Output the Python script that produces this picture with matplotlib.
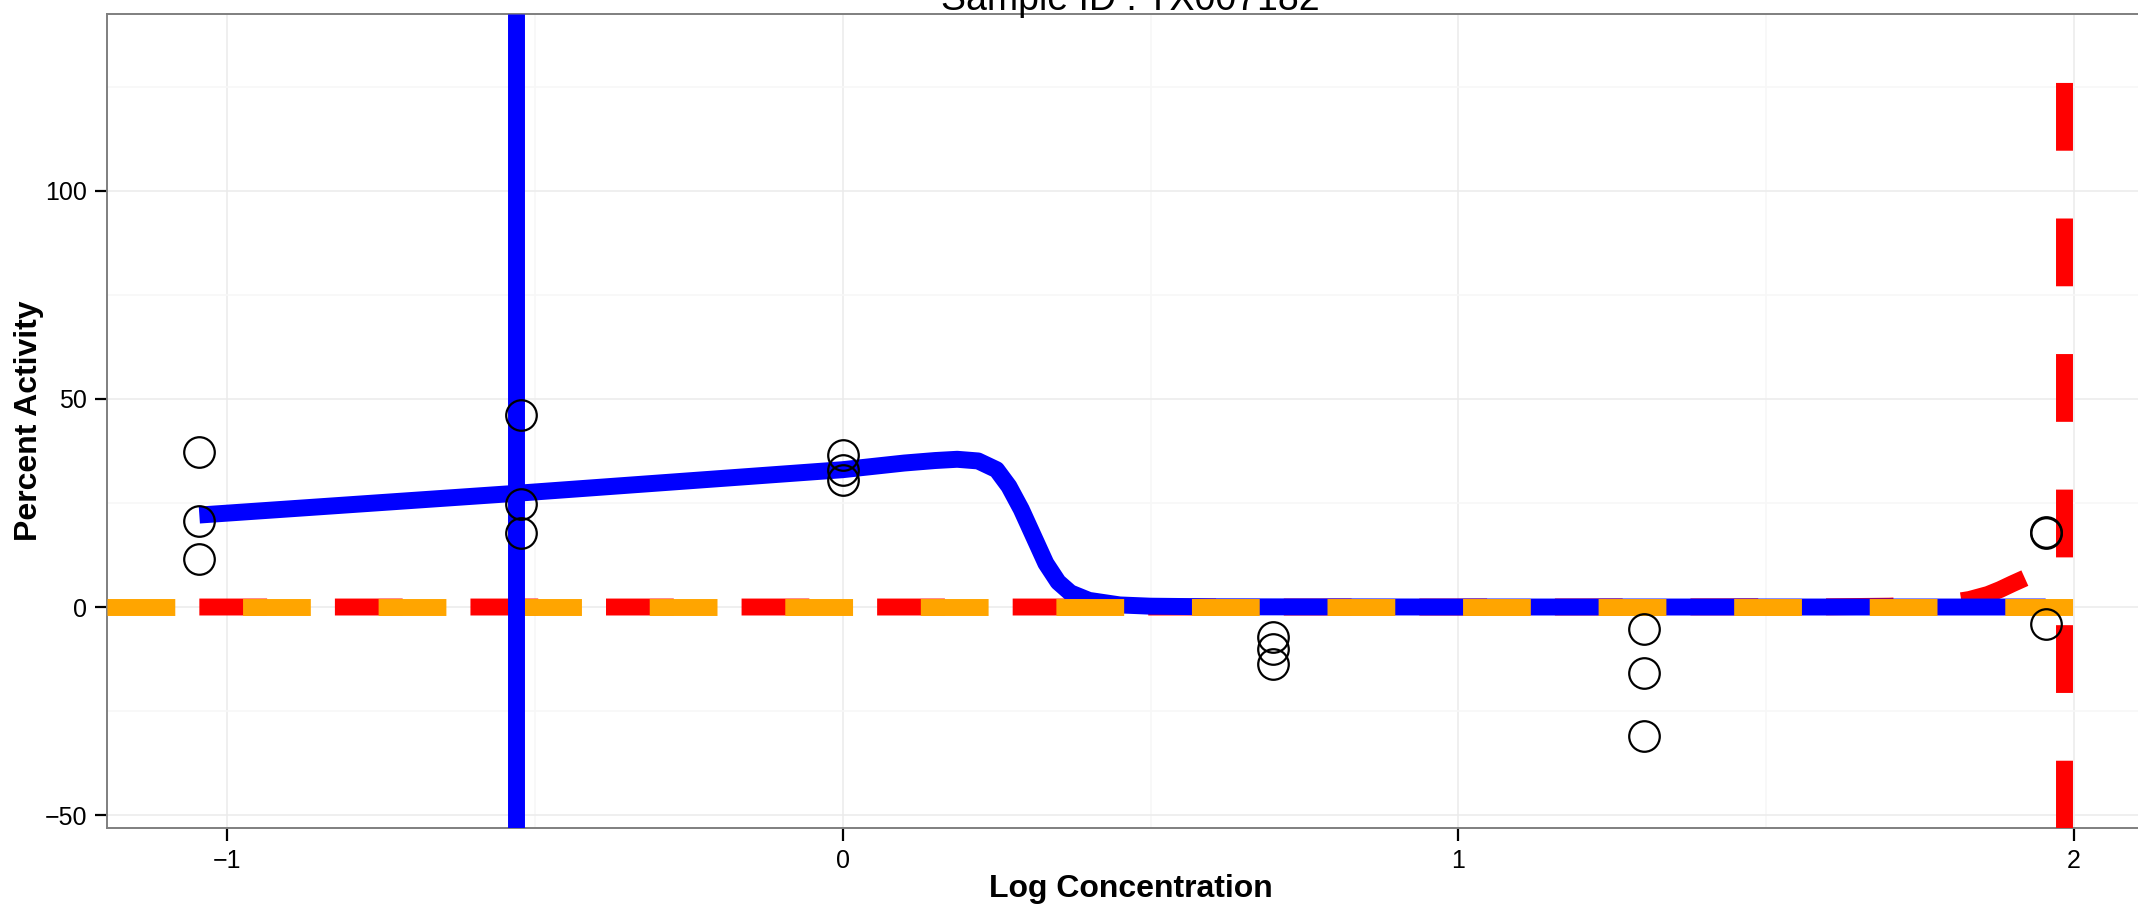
import matplotlib
matplotlib.use("Agg")
import matplotlib.pyplot as plt
from matplotlib.ticker import MultipleLocator

plt.rcParams['font.family'] = ['Liberation Sans', 'DejaVu Sans']

# ---- data ----
dose_log = [-1.045, -0.523, 0.0, 0.699, 1.301, 1.954]
resp_rep1 = [37.3, 46.2, 36.5, -7.2, -5.3, 18.1]
resp_rep2 = [20.7, 24.7, 32.9, -10.1, -15.9, 17.7]
resp_rep3 = [11.6, 17.8, 30.5, -13.7, -31.0, -4.1]

blue_x = [-1.045, -0.523, 0.0, 0.10, 0.15, 0.186, 0.22, 0.25, 0.27, 0.29,
          0.31, 0.33, 0.35, 0.37, 0.40, 0.45, 0.50, 0.60, 1.0, 1.5, 1.954]
blue_y = [22.1, 27.4, 33.0, 34.6, 35.2, 35.5, 35.1, 33.0, 29.0, 23.5,
          17.0, 10.5, 6.0, 3.4, 1.6, 0.5, 0.2, 0.05, 0.0, 0.0, 0.0]

red_x = [-1.045, 0.0, 1.0, 1.6, 1.70, 1.76, 1.80, 1.83, 1.86, 1.88, 1.90, 1.927, 1.954]
red_y = [0.0, 0.0, 0.0, 0.05, 0.2, 0.6, 1.1, 1.8, 3.0, 4.2, 5.6, 7.4, 9.8]

orange_hline = 0.0
blue_vline = -0.531
red_vline = 1.983

title = "Sample ID : TX007182"
x_label = "Log Concentration"
y_label = "Percent Activity"
x_ticks = [-1, 0, 1, 2]
y_ticks = [-50, 0, 50, 100]
x_ticklabels = ['\u22121', '0', '1', '2']
y_ticklabels = ['\u221250', '0', '50', '100']

# ---- figure ----
W, H = 2138, 909
fig = plt.figure(figsize=(W / 100, H / 100), dpi=100)
ax = fig.add_axes([107 / W, (H - 828) / H, (W - 107) / W, (828 - 14) / H])
ax.set_xlim(-1.195, 2.104)
ax.set_ylim(-53.1, 142.5)

lw = 12.2
ax.plot(red_x, red_y, color='#FF0000', lw=lw, linestyle=(0, (4, 4)),
        dash_capstyle='butt', zorder=2)
ax.plot(blue_x, blue_y, color='#0000FF', lw=lw, solid_capstyle='butt',
        solid_joinstyle='round', zorder=3)
ax.axhline(orange_hline, color='#FFA500', lw=lw, linestyle=(0, (4, 4)),
           dash_capstyle='butt', zorder=4)
ax.axvline(blue_vline, color='#0000FF', lw=lw, solid_capstyle='butt', zorder=5)
ax.axvline(red_vline, ymin=0, ymax=0.99, color='#FF0000', lw=lw,
           linestyle=(0, (4, 4)), dash_capstyle='butt', zorder=5)

for rep in (resp_rep1, resp_rep2, resp_rep3):
    ax.plot(dose_log, rep, linestyle='none', marker='o', markersize=22,
            markerfacecolor='none', markeredgecolor='black',
            markeredgewidth=1.6, zorder=6)

# grid / ticks
ax.set_xticks(x_ticks)
ax.set_yticks(y_ticks)
ax.set_xticklabels(x_ticklabels, fontsize=18)
ax.set_yticklabels(y_ticklabels, fontsize=18)
ax.xaxis.set_minor_locator(MultipleLocator(0.5))
ax.yaxis.set_minor_locator(MultipleLocator(25))
ax.grid(which='major', color='#EBEBEB', lw=1.1, zorder=0)
ax.grid(which='minor', color='#F7F7F7', lw=1.1, zorder=0)
ax.set_axisbelow(True)
ax.tick_params(which='minor', length=0)
ax.tick_params(which='major', length=9, width=1.6, color='black',
               labelsize=18, labelcolor='black')
ax.tick_params(axis='y', pad=5.5)
ax.tick_params(axis='x', pad=6)

for side in ('top', 'left', 'bottom'):
    ax.spines[side].set_color('#7F7F7F')
    ax.spines[side].set_linewidth(1.4)
ax.spines['right'].set_visible(False)

# labels
fig.text(1131 / W, 1 - 897 / H, x_label, ha='center', va='baseline',
         fontsize=23, fontweight='bold')
fig.text(37 / W, 1 - 421 / H, y_label, ha='center', va='baseline',
         rotation=90, rotation_mode='anchor', fontsize=23, fontweight='bold')
fig.text(1130 / W, 1 - 10 / H, title, ha='center', va='baseline', fontsize=27)

fig.savefig('out.png', dpi=100)
